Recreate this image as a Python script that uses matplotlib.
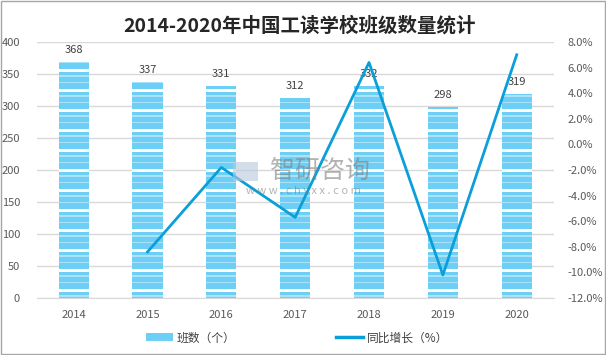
import matplotlib
matplotlib.use("Agg")
import matplotlib.pyplot as plt
from matplotlib.patches import Patch, Rectangle
from matplotlib.lines import Line2D
import numpy as np

plt.rcParams['font.family'] = ['Noto Sans CJK SC', 'DejaVu Sans']

# data
years = ["2014", "2015", "2016", "2017", "2018", "2019", "2020"]
classes = [368, 337, 331, 312, 332, 298, 319]
growth_years = ["2015", "2016", "2017", "2018", "2019", "2020"]
growth = [-8.4, -1.8, -5.7, 6.4, -10.2, 7.0]

bar_blue = "#6DCFF6"
bar_light = "#A9E2F9"
line_blue = "#0A9FD9"
grid_gray = "#D9D9D9"
text_gray = "#595959"

fig = plt.figure(figsize=(6.06, 3.55), dpi=100)
ax = fig.add_axes([0.0606, 0.1606, 0.853, 0.7211])
ax2 = ax.twinx()

x = np.arange(len(years))
bar_w = 0.41
ax.bar(x, classes, width=bar_w, color=bar_blue, zorder=2)

# striped fill: white gap every 20 px, light lines either side
u = 400 / 256.0  # data units per pixel
for xi, v in zip(x, classes):
    k = 0
    while (6.0 + 20 * k) * u < v + 10:
        g = (6.0 + 20 * k) * u
        for b, h, c in [(g, 3.0 * u, "white"),
                        (g - 5.0 * u, 1.6 * u, bar_light),
                        (g + 8.5 * u, 1.6 * u, bar_light)]:
            if 0 <= b < v:
                ax.bar(xi, min(h, v - b), width=bar_w, bottom=b,
                       color=c, zorder=3)
        k += 1
    ax.text(xi, v + 12 * u, str(v), ha="center", va="center",
            fontsize=8, color="#404040", zorder=5)

ax.set_xlim(-0.5, 6.5)
ax.set_ylim(0, 400)
ax.set_yticks(range(0, 401, 50))
ax.set_xticks(x)
ax.set_xticklabels(years)
ax.grid(axis="y", color=grid_gray, linewidth=1, zorder=0)
ax.set_axisbelow(True)

gx = [years.index(y) for y in growth_years]
ax2.plot(gx, growth, color=line_blue, linewidth=2.0, zorder=4)
ax2.set_ylim(-12, 8)
ax2.set_yticks(range(-12, 9, 2))
ax2.set_yticklabels([f"{t:.1f}%" for t in range(-12, 9, 2)])

for a in (ax, ax2):
    for s in a.spines.values():
        s.set_visible(False)
    a.tick_params(length=0, labelsize=8, colors=text_gray)
ax.spines["bottom"].set_visible(True)
ax.spines["bottom"].set_color(grid_gray)
ax.tick_params(axis="x", pad=9)
ax.tick_params(axis="y", pad=12)
ax2.tick_params(axis="y", pad=10)

fig.text(0.495, 0.927, "2014-2020年中国工读学校班级数量统计", ha="center",
         va="center", fontsize=14, fontweight="bold", color="#262626")

# watermark
fig.text(0.528, 0.518, "智研咨询", ha="center", va="center", fontsize=18,
         color="#808080", alpha=0.6, zorder=10)
fig.text(0.5, 0.462, "w w w . c h y x x . c o m", ha="center", va="center",
         fontsize=8, color="#808080", alpha=0.6, zorder=10)
fig.patches.append(Rectangle((0.385, 0.49), 0.04, 0.055, transform=fig.transFigure,
                             facecolor="#B8C8DC", alpha=0.6, zorder=10))

handles = [Patch(facecolor=bar_blue, edgecolor="white", hatch="-", linewidth=0),
           Line2D([0], [0], color=line_blue, linewidth=2.5)]
fig.legend(handles, ["班数（个）", "同比增长（%）"], loc="center",
           bbox_to_anchor=(0.49, 0.048), ncol=2, frameon=False, fontsize=8.5,
           handlelength=2.3, columnspacing=8.5, handletextpad=0.3,
           labelcolor="#404040")

fig.patches.append(Rectangle((0.001, 0.002), 0.997, 0.995, transform=fig.transFigure,
                             fill=False, edgecolor="#A6A6A6", linewidth=1))

fig.savefig("out.png", dpi=100)
